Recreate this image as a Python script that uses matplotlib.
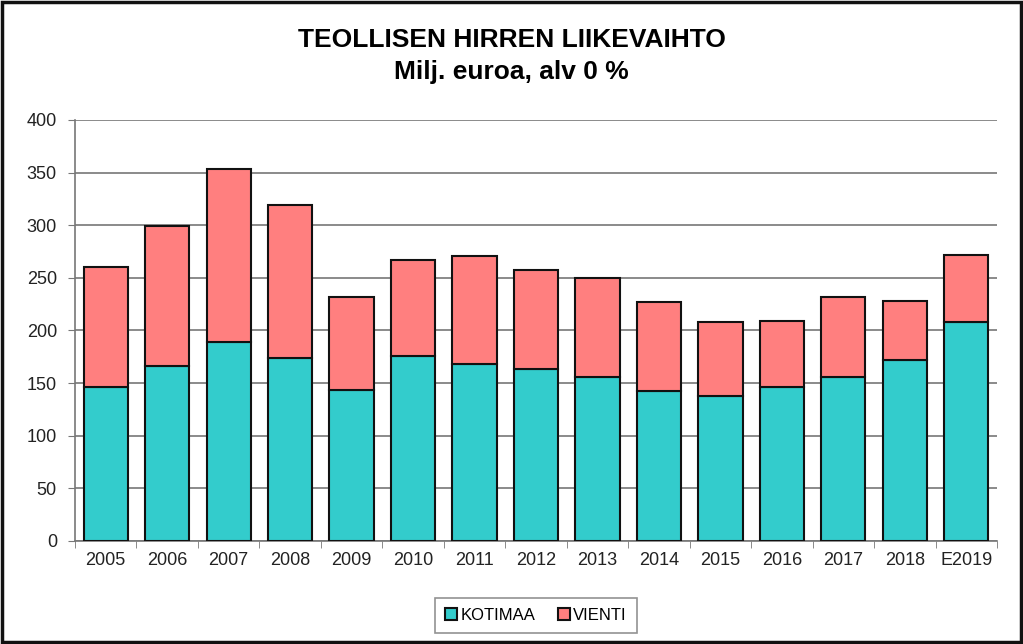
import numpy as np
import matplotlib.pyplot as plt
from matplotlib.patches import Rectangle

plt.rcParams['font.family'] = ['Liberation Sans', 'DejaVu Sans']

# data (milj. euroa)
years = ['2005', '2006', '2007', '2008', '2009', '2010', '2011', '2012',
         '2013', '2014', '2015', '2016', '2017', '2018', 'E2019']
kotimaa = [146, 166, 189, 174, 143.5, 176, 168, 163, 156, 142.5, 138, 146, 156, 172, 208]
total = [260, 299, 353, 319, 232, 267, 271, 257.5, 250, 227, 208, 209, 232, 228, 272]
vienti = [t - k for t, k in zip(total, kotimaa)]

fig = plt.figure(figsize=(10.23, 6.44), dpi=100)
ax = fig.add_axes([0.0733, 0.16, 0.9013, 0.6537])

x = np.arange(len(years))
w = 0.72
ax.bar(x, kotimaa, w, color='#33CCCC', edgecolor='#111111', linewidth=1.5,
       label='KOTIMAA', zorder=3)
ax.bar(x, vienti, w, bottom=kotimaa, color='#FF7F7F', edgecolor='#111111',
       linewidth=1.5, label='VIENTI', zorder=3)

ax.set_xlim(-0.5, len(years) - 0.5)
ax.set_ylim(0, 400)
ax.set_yticks(np.arange(0, 401, 50))
ax.yaxis.grid(True, color='#777777', linewidth=1.2, zorder=0)

ax.set_xticks(x)
ax.set_xticklabels(years, fontsize=13, color='#222222')
ax.set_xticks(np.arange(-0.5, len(years)), minor=True)
ax.tick_params(axis='x', which='major', length=0, pad=8)
ax.tick_params(axis='x', which='minor', length=5, color='#777777', direction='out')
ax.tick_params(axis='y', labelsize=13, labelcolor='#222222', length=5,
               color='#777777', pad=8)

for s in ['top', 'right']:
    ax.spines[s].set_visible(False)
ax.spines['left'].set_color('#777777')
ax.spines['bottom'].set_color('#777777')
ax.spines['left'].set_linewidth(1.2)
ax.spines['bottom'].set_linewidth(1.2)

title_font = ['Liberation Sans Narrow', 'Liberation Sans', 'DejaVu Sans']
fig.text(0.5, 0.938, 'TEOLLISEN HIRREN LIIKEVAIHTO', ha='center', va='center',
         fontsize=19, fontweight='bold', family=title_font)
fig.text(0.5, 0.888, 'Milj. euroa, alv 0 %', ha='center', va='center',
         fontsize=19, fontweight='bold', family=title_font)

leg = fig.legend(loc='center', bbox_to_anchor=(0.524, 0.044), ncol=2,
                 fontsize=12, frameon=True, fancybox=False, edgecolor='#777777',
                 handlelength=0.7, handleheight=0.7, handletextpad=0.2,
                 columnspacing=1.4, borderpad=0.6)
leg.get_frame().set_linewidth(1.2)

fig.patches.append(Rectangle((0.002, 0.003), 0.996, 0.994, transform=fig.transFigure,
                             fill=False, edgecolor='#111111', linewidth=2.5))

plt.savefig('out.png', dpi=100)
